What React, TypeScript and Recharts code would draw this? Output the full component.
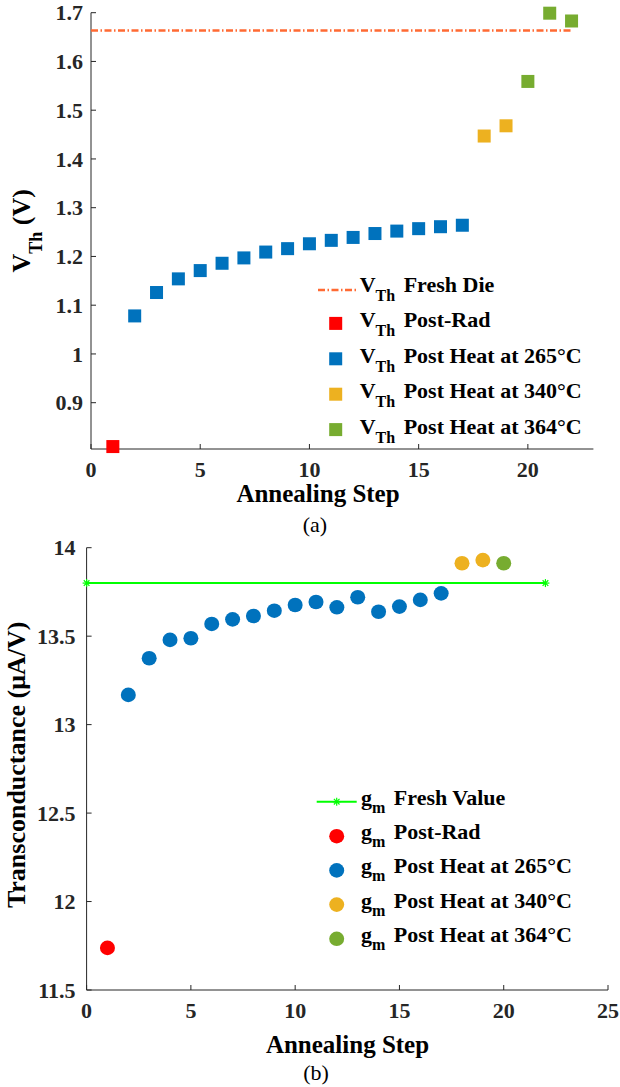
import { ScatterChart, Scatter, XAxis, YAxis, Legend } from "recharts"

const FONT = "Liberation Serif, Times New Roman, serif"
const INK = "#262626"
const RED = "#FF0000"
const BLUE = "#0072BD"
const ORANGE = "#EDB120"
const GREEN = "#77AC30"
const FRESH_VTH = "#FF6A33"
const FRESH_GM = "#00FF00"

// (a) threshold voltage per annealing step
const vthRadSteps = [1]
const vthRad = [0.81]
const vth265Steps = [2, 3, 4, 5, 6, 7, 8, 9, 10, 11, 12, 13, 14, 15, 16, 17]
const vth265 = [1.078, 1.126, 1.154, 1.171, 1.186, 1.197, 1.209, 1.216, 1.226, 1.233, 1.239, 1.247, 1.252, 1.257, 1.261, 1.264]
const vth340Steps = [18, 19]
const vth340 = [1.447, 1.468]
const vth364Steps = [20, 21, 22]
const vth364 = [1.559, 1.699, 1.683]
const vthFreshSteps = [0, 22]
const vthFresh = [1.6636, 1.6636]
const vthXTicks = [0, 5, 10, 15, 20]
const vthYTicks = [0.9, 1, 1.1, 1.2, 1.3, 1.4, 1.5, 1.6, 1.7]

// (b) transconductance per annealing step
const gmRadSteps = [1]
const gmRad = [11.738]
const gm265Steps = [2, 3, 4, 5, 6, 7, 8, 9, 10, 11, 12, 13, 14, 15, 16, 17]
const gm265 = [13.168, 13.375, 13.479, 13.488, 13.569, 13.595, 13.614, 13.644, 13.676, 13.693, 13.663, 13.72, 13.638, 13.667, 13.705, 13.742]
const gm340Steps = [18, 19]
const gm340 = [13.912, 13.93]
const gm364Steps = [20]
const gm364 = [13.912]
const gmFreshSteps = [0, 22]
const gmFresh = [13.8, 13.8]
const gmXTicks = [0, 5, 10, 15, 20, 25]
const gmYTicks = [11.5, 12, 12.5, 13, 13.5, 14]

const pts = (xs: number[], ys: number[]) => xs.map((step, i) => ({ step, value: ys[i] }))

const TICK_LEN = 5
const bold = { fontFamily: FONT, fontWeight: 700 }
const plain = { fontFamily: FONT, fontWeight: 400 }

// MATLAB style: ticks point inward, labels only on bottom/left
function tick(side: "bottom" | "left" | "top" | "right", gap = 0) {
  return (props: any) => {
    const { x, y, payload } = props
    if (side === "top") return <line x1={x} y1={y} x2={x} y2={y + TICK_LEN} stroke={INK} />
    if (side === "right") return <line x1={x} y1={y} x2={x - TICK_LEN} y2={y} stroke={INK} />
    if (side === "bottom") {
      return (
        <g>
          <line x1={x} y1={y} x2={x} y2={y - TICK_LEN} stroke={INK} />
          <text x={x} y={y + gap} textAnchor="middle" style={bold} fontSize={22} fill={INK}>
            {payload.value}
          </text>
        </g>
      )
    }
    return (
      <g>
        <line x1={x} y1={y} x2={x + TICK_LEN} y2={y} stroke={INK} />
        <text x={x - gap} y={y} dy="0.35em" textAnchor="end" style={bold} fontSize={22} fill={INK}>
          {payload.value}
        </text>
      </g>
    )
  }
}

const square = (color: string) => (p: any) => (
  <rect x={p.cx - 6.5} y={p.cy - 6.5} width={13} height={13} fill={color} />
)
const dot = (color: string) => (p: any) => <ellipse cx={p.cx} cy={p.cy} rx={7.5} ry={7.3} fill={color} />
const hidden = () => <g />

function Asterisk({ cx, cy, color, r = 4 }: { cx: number; cy: number; color: string; r?: number }) {
  const d = r * 0.707
  return (
    <g stroke={color} strokeWidth={1.2}>
      <line x1={cx - r} y1={cy} x2={cx + r} y2={cy} />
      <line x1={cx} y1={cy - r} x2={cx} y2={cy + r} />
      <line x1={cx - d} y1={cy - d} x2={cx + d} y2={cy + d} />
      <line x1={cx - d} y1={cy + d} x2={cx + d} y2={cy - d} />
    </g>
  )
}

function LegendText({ x, y, sym, sub, subDy, label }: any) {
  return (
    <text x={x} y={y} style={bold} fontSize={22} fill="#000">
      {sym}
      <tspan dy={subDy} fontSize={16}>{sub}</tspan>
      <tspan dy={-subDy} dx={3}>{" " + label}</tspan>
    </text>
  )
}

const vthLegendRows = [
  { label: "Fresh Die", color: FRESH_VTH, line: true },
  { label: "Post-Rad", color: RED },
  { label: "Post Heat at 265°C", color: BLUE },
  { label: "Post Heat at 340°C", color: ORANGE },
  { label: "Post Heat at 364°C", color: GREEN },
]

const gmLegendRows = [
  { label: "Fresh Value", color: FRESH_GM, line: true },
  { label: "Post-Rad", color: RED },
  { label: "Post Heat at 265°C", color: BLUE },
  { label: "Post Heat at 340°C", color: ORANGE },
  { label: "Post Heat at 364°C", color: GREEN },
]

function VthLegend() {
  return (
    <svg width={290} height={190}>
      {vthLegendRows.map((r, i) => {
        const base = 24 + i * 35.4
        return (
          <g key={r.label}>
            {r.line ? (
              <line x1={8} x2={47.7} y1={base - 2} y2={base - 2} stroke={r.color} strokeWidth={2.5} strokeDasharray="7 2.5 1.5 2.5" />
            ) : (
              <rect x={25.7 - 6.5} y={base - 4 - 6.5} width={13} height={13} fill={r.color} />
            )}
            <LegendText x={49.7} y={base} sym="V" sub="Th" subDy={9} label={r.label} />
          </g>
        )
      })}
    </svg>
  )
}

function GmLegend() {
  return (
    <svg width={310} height={190}>
      {gmLegendRows.map((r, i) => {
        const base = 25 + i * 34.2
        return (
          <g key={r.label}>
            {r.line ? (
              <g>
                <line x1={16.7} x2={56.7} y1={base - 3.3} y2={base - 3.3} stroke={r.color} strokeWidth={2} />
                <Asterisk cx={36.7} cy={base - 3.3} color={r.color} />
              </g>
            ) : (
              <ellipse cx={36.7} cy={base - 3} rx={7.5} ry={7.3} fill={r.color} />
            )}
            <LegendText x={61} y={base} sym="g" sub="m" subDy={8} label={r.label} />
          </g>
        )
      })}
    </svg>
  )
}

function VthChart() {
  return (
    <ScatterChart width={620} height={540} margin={{ top: 12.7, right: 26.6, bottom: 0, left: 0 }}>
      <XAxis
        type="number"
        dataKey="step"
        domain={[0, 23]}
        ticks={vthXTicks}
        interval={0}
        height={91}
        tickSize={0}
        tickMargin={0}
        tickLine={false}
        stroke={INK}
        tick={tick("bottom", 28)}
        label={{
          content: () => (
            <g fill="#000">
              <text x={318} y={502} textAnchor="middle" style={bold} fontSize={25}>Annealing Step</text>
              <text x={315} y={532} textAnchor="middle" style={plain} fontSize={22}>(a)</text>
            </g>
          ),
        }}
      />
      <XAxis xAxisId="top" orientation="top" type="number" domain={[0, 23]} ticks={vthXTicks} interval={0} height={0} tickSize={0} tickMargin={0} tickLine={false} stroke={INK} tick={tick("top")} />
      <YAxis
        type="number"
        dataKey="value"
        domain={[0.805, 1.7]}
        ticks={vthYTicks}
        interval={0}
        width={91}
        tickSize={0}
        tickMargin={0}
        tickLine={false}
        stroke={INK}
        tick={tick("left", 8)}
        label={{
          content: (p: any) => {
            const vb = p.viewBox || {}
            const cy = vb.height ? vb.y + vb.height / 2 : 231
            return (
              <text transform={`translate(30, ${cy}) rotate(-90)`} textAnchor="middle" style={bold} fontSize={26} fill="#000">
                V<tspan dy={12} fontSize={18}>Th</tspan>
                <tspan dy={-12}> (V)</tspan>
              </text>
            )
          },
        }}
      />
      <YAxis yAxisId="right" orientation="right" type="number" domain={[0.805, 1.7]} ticks={vthYTicks} interval={0} width={0} tickSize={0} tickMargin={0} tickLine={false} stroke={INK} tick={tick("right")} />
      <Legend layout="vertical" align="center" verticalAlign="middle" content={() => <VthLegend />} wrapperStyle={{ position: "absolute", left: 310, top: 268, width: 290, height: 190 }} />
      <Scatter data={pts(vthFreshSteps, vthFresh)} fill={FRESH_VTH} line={{ stroke: FRESH_VTH, strokeWidth: 2.5, strokeDasharray: "7 2.5 1.5 2.5" }} shape={hidden} isAnimationActive={false} />
      <Scatter data={pts(vthRadSteps, vthRad)} fill={RED} shape={square(RED)} isAnimationActive={false} />
      <Scatter data={pts(vth265Steps, vth265)} fill={BLUE} shape={square(BLUE)} isAnimationActive={false} />
      <Scatter data={pts(vth340Steps, vth340)} fill={ORANGE} shape={square(ORANGE)} isAnimationActive={false} />
      <Scatter data={pts(vth364Steps, vth364)} fill={GREEN} shape={square(GREEN)} isAnimationActive={false} />
    </ScatterChart>
  )
}

function GmChart() {
  return (
    <ScatterChart width={620} height={577} margin={{ top: 37.7, right: 12, bottom: 0, left: 0 }}>
      <XAxis
        type="number"
        dataKey="step"
        domain={[0, 25]}
        ticks={gmXTicks}
        interval={0}
        height={97}
        tickSize={0}
        tickMargin={0}
        tickLine={false}
        stroke={INK}
        tick={tick("bottom", 28)}
        label={{
          content: () => (
            <g fill="#000">
              <text x={347.5} y={543} textAnchor="middle" style={bold} fontSize={25}>Annealing Step</text>
              <text x={316} y={570} textAnchor="middle" style={plain} fontSize={22}>(b)</text>
            </g>
          ),
        }}
      />
      <XAxis xAxisId="top" orientation="top" type="number" domain={[0, 25]} ticks={gmXTicks} interval={0} height={0} tickSize={0} tickMargin={0} tickLine={false} stroke={INK} tick={tick("top")} />
      <YAxis
        type="number"
        dataKey="value"
        domain={[11.5, 14]}
        ticks={gmYTicks}
        interval={0}
        width={86.6}
        tickSize={0}
        tickMargin={0}
        tickLine={false}
        stroke={INK}
        tick={tick("left", 11)}
        label={{
          content: (p: any) => {
            const vb = p.viewBox || {}
            const cy = vb.height ? vb.y + vb.height / 2 - 4 : 254
            return (
              <text transform={`translate(25, ${cy}) rotate(-90)`} textAnchor="middle" style={bold} fontSize={26} fill="#000">
                Transconductance (μA/V)
              </text>
            )
          },
        }}
      />
      <YAxis yAxisId="right" orientation="right" type="number" domain={[11.5, 14]} ticks={gmYTicks} interval={0} width={0} tickSize={0} tickMargin={0} tickLine={false} stroke={INK} tick={tick("right")} />
      <Legend layout="vertical" align="center" verticalAlign="middle" content={() => <GmLegend />} wrapperStyle={{ position: "absolute", left: 300, top: 270, width: 310, height: 190 }} />
      <Scatter
        data={pts(gmFreshSteps, gmFresh)}
        fill={FRESH_GM}
        line={{ stroke: FRESH_GM, strokeWidth: 2 }}
        shape={(p: any) => <Asterisk cx={p.cx} cy={p.cy} color={FRESH_GM} />}
        isAnimationActive={false}
      />
      <Scatter data={pts(gmRadSteps, gmRad)} fill={RED} shape={dot(RED)} isAnimationActive={false} />
      <Scatter data={pts(gm265Steps, gm265)} fill={BLUE} shape={dot(BLUE)} isAnimationActive={false} />
      <Scatter data={pts(gm340Steps, gm340)} fill={ORANGE} shape={dot(ORANGE)} isAnimationActive={false} />
      <Scatter data={pts(gm364Steps, gm364)} fill={GREEN} shape={dot(GREEN)} isAnimationActive={false} />
    </ScatterChart>
  )
}

export default function App() {
  return (
    <div style={{ position: "absolute", left: 0, top: 0, width: 620, height: 1087, background: "#fff" }}>
      <div style={{ position: "absolute", left: 0, top: 0 }}>
        <VthChart />
      </div>
      <div style={{ position: "absolute", left: 0, top: 510 }}>
        <GmChart />
      </div>
    </div>
  )
}
